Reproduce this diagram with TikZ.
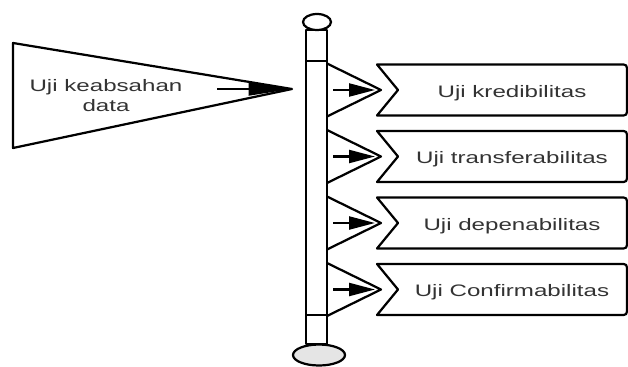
\documentclass[tikz,border=0pt]{standalone}
\usepackage{fontspec}
\setmainfont{Liberation Sans}
\usepackage{graphicx}
\usetikzlibrary{arrows.meta}

\newcommand{\widetext}[1]{\scalebox{1.45}[1]{#1}}

\begin{document}
\begin{tikzpicture}[x=0.03cm,y=-0.03cm,line width=1.9pt,line join=round]
    % styles
    \tikzset{flagtext/.style={inner sep=0pt,text=black!80,font=\fontsize{14.2}{16}\selectfont},
             smallhead/.style={-{Triangle[length=22pt,width=11pt]}},
             longhead/.style={-{Triangle[length=37pt,width=11pt]}}}
    \useasboundingbox (0,0) rectangle (628,366);

    % left flag
    \coordinate (F1) at (13,43);
    \coordinate (F2) at (13,148);
    \coordinate (Ftip) at (292,89);
    \coordinate (Fa) at (217,89);
    \draw (F1) -- (Ftip) -- (F2) -- cycle;
    \draw[longhead] (Fa) -- (Ftip);
    \node[flagtext] (src) at (106,98) {\widetext{\begin{tabular}{@{}c@{}}Uji keabsahan\\[1pt] data\end{tabular}}};

    % pole
    \draw (306,30) rectangle (327,344);
    \draw (306,61) -- (327,61);
    \draw (306,315) -- (327,315);
    \draw[fill=white] (317,22) ellipse [x radius=14, y radius=8];
    \draw[fill=gray!20] (319,355) ellipse [x radius=26, y radius=10.5];

    % pennants and boxes
    \foreach \txt [count=\i] in {Uji kredibilitas, Uji transferabilitas, Uji depenabilitas, Uji Confirmabilitas} {
        \pgfmathsetmacro\c{90+66.5*(\i-1)}
        \coordinate (pa\i) at (327,\c-26.5);
        \coordinate (pb\i) at (327,\c+26.5);
        \coordinate (t\i) at (381,\c);
        \coordinate (s\i) at (333,\c);
        \coordinate (h\i) at (375,\c);
        \draw (pa\i) -- (t\i) -- (pb\i);
        \draw[smallhead] (s\i) -- (h\i);
        \draw (377,\c-25.5) -- (398,\c) -- (377,\c+25.5) -- (620,\c+25.5)
            .. controls (627,\c+25.5) .. (627,\c+17.5) -- (627,\c-17.5)
            .. controls (627,\c-25.5) .. (620,\c-25.5) -- cycle;
        \node[flagtext, anchor=base] (b\i) at (512,\c+7) {\widetext{\txt}};
    }
\end{tikzpicture}
\end{document}
